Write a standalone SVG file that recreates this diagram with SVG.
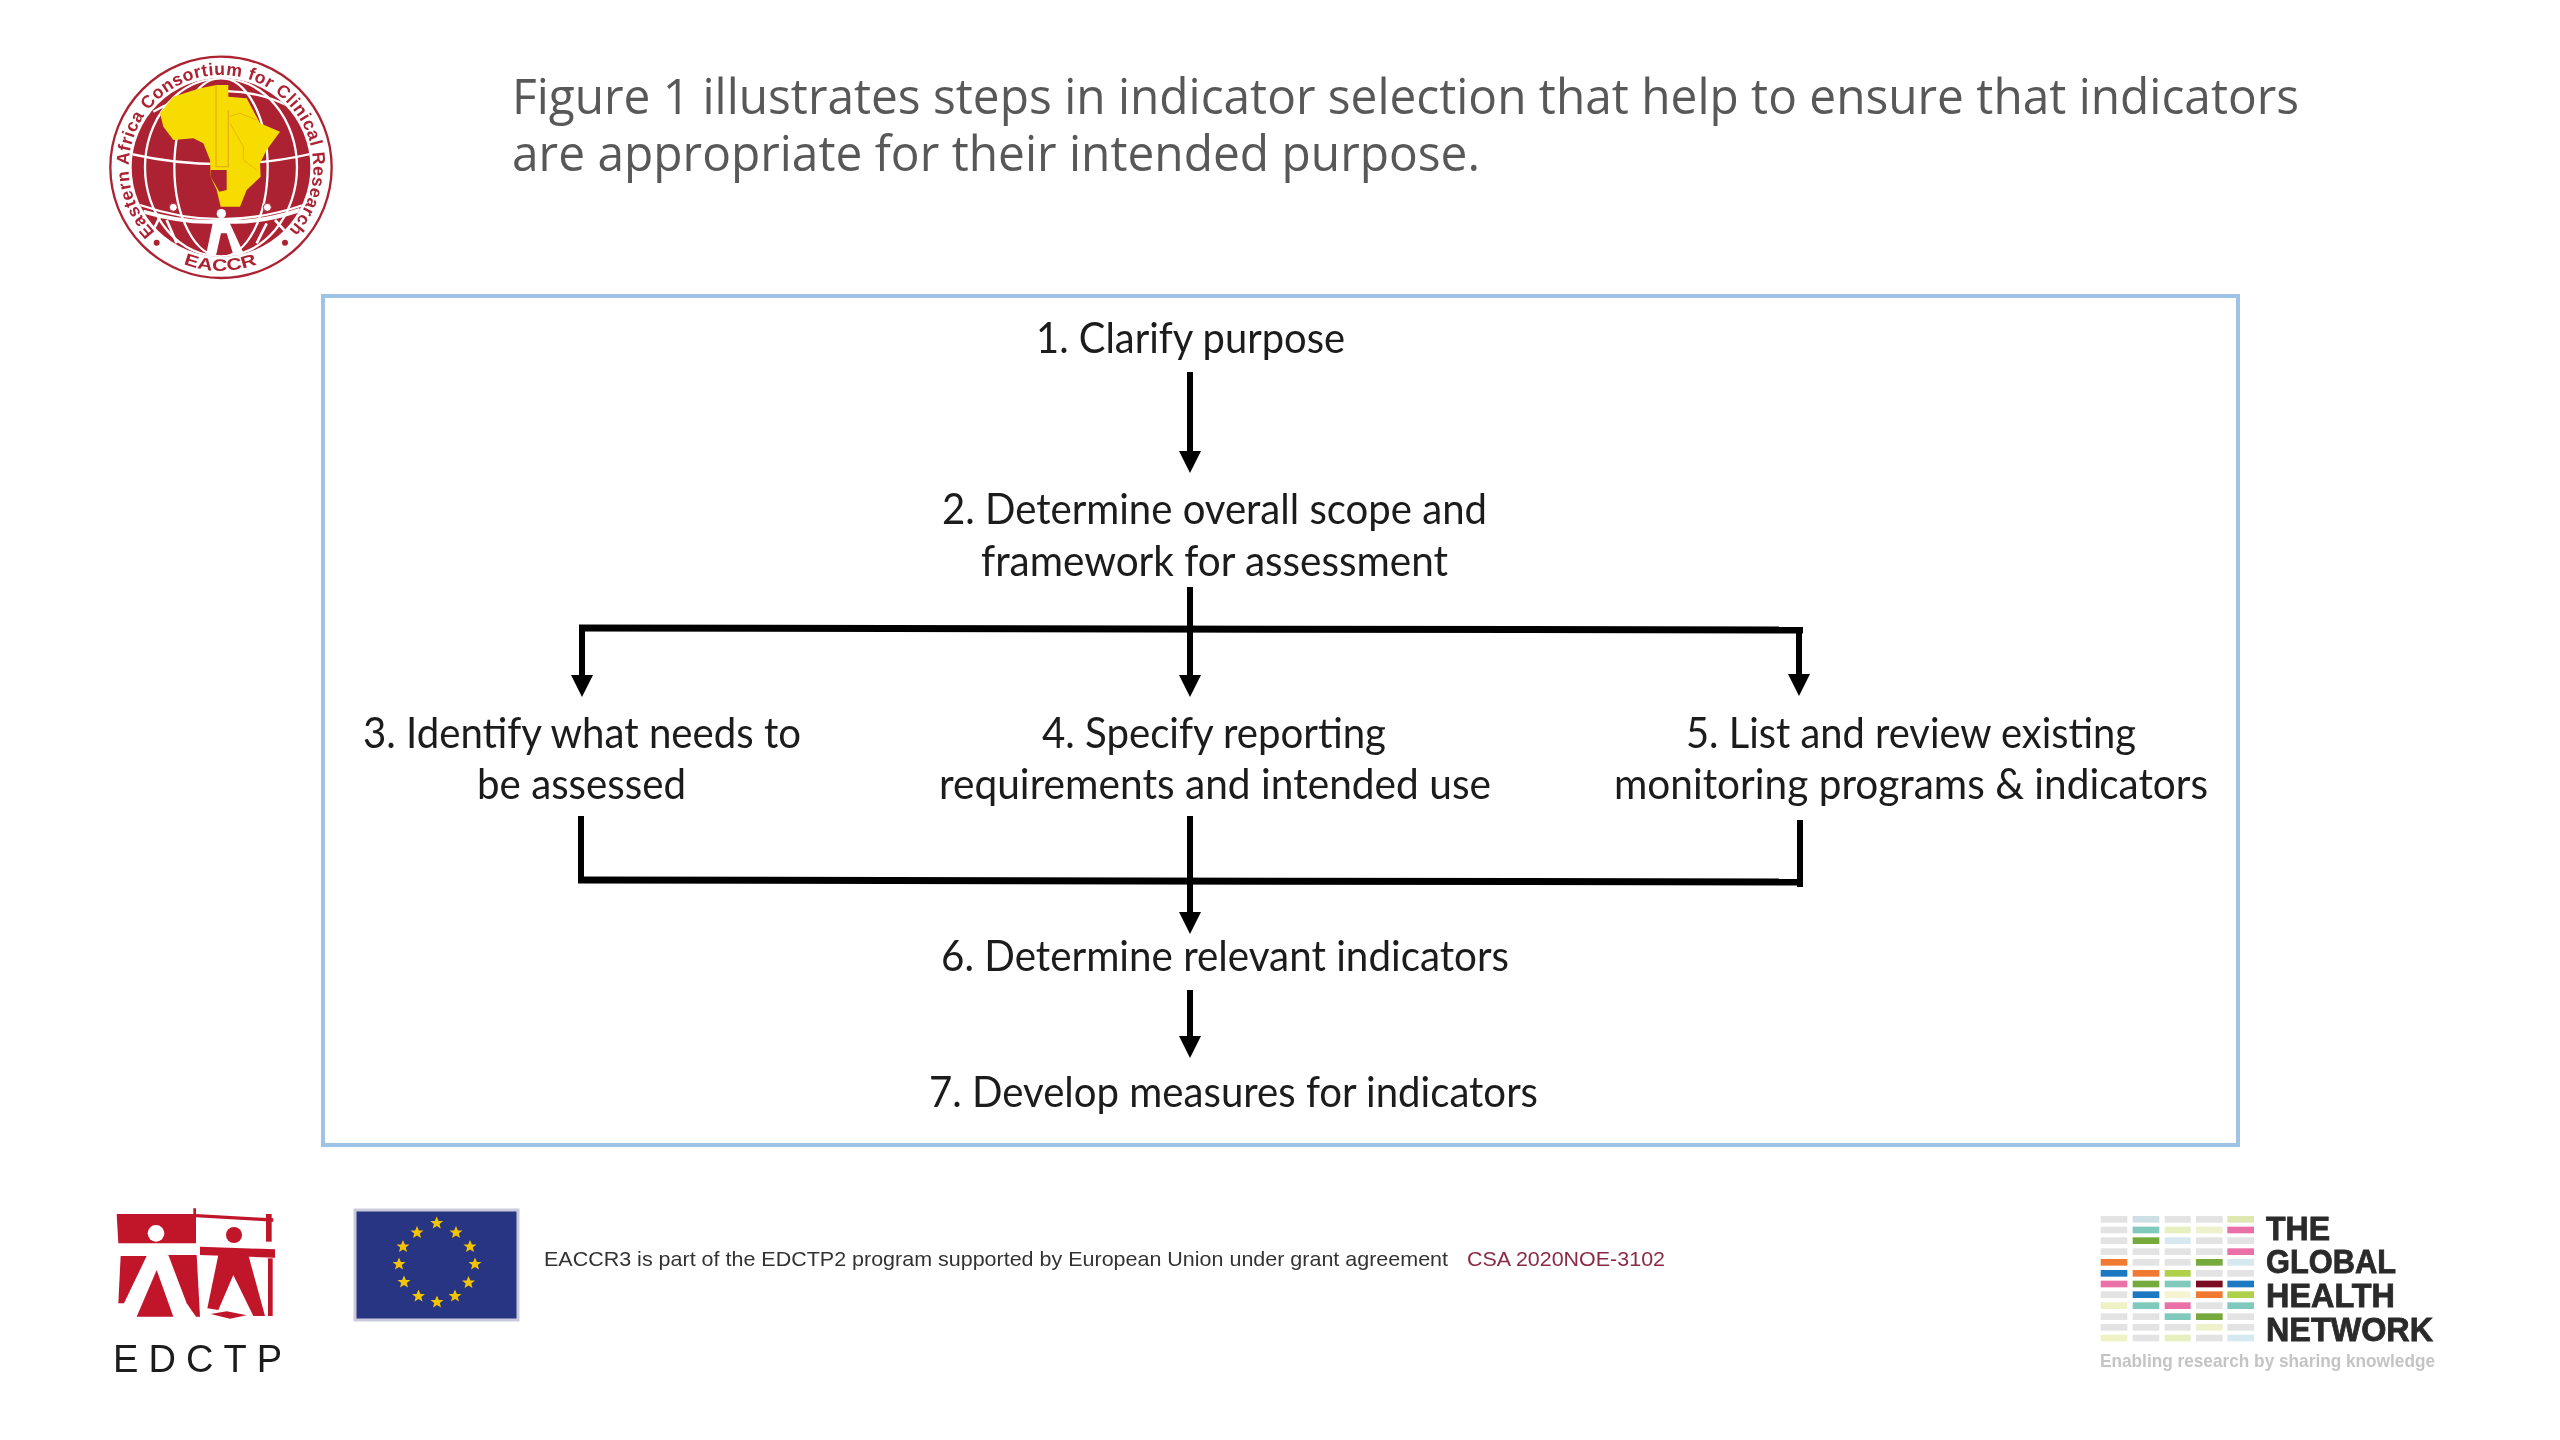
<svg xmlns="http://www.w3.org/2000/svg" width="2560" height="1440" viewBox="0 0 2560 1440">
<style>
.t{font-family:"Lato","Carlito","Liberation Sans",sans-serif;font-size:43px;fill:#1a1a1a}
.h{font-family:"Open Sans","Noto Sans",sans-serif;font-size:50px;fill:#595959}
.c{fill:none;stroke:#000;stroke-width:6}
.b{fill:none;stroke:#000;stroke-width:7}
.f{font-family:"Liberation Sans",Arial,sans-serif;font-size:21px;fill:#333}
.g{font-family:"Liberation Sans",Arial,sans-serif;font-weight:700;font-size:33px;fill:#2a2a2a;stroke:#2a2a2a;stroke-width:.8}
.e{fill:#c1152c}
</style>
<defs>
<marker id="ah" markerUnits="userSpaceOnUse" markerWidth="24" markerHeight="24" refX="0" refY="11" orient="auto"><path d="M0 0L22 11L0 22Z" fill="#000"/></marker>
<filter id="s0" x="-2%" y="-10%" width="104%" height="120%"><feGaussianBlur stdDeviation="0.6"/></filter>
<filter id="s1" x="-5%" y="-5%" width="110%" height="110%"><feGaussianBlur stdDeviation="0.9"/></filter>
<filter id="s2" x="-5%" y="-5%" width="110%" height="110%"><feGaussianBlur stdDeviation="1.5"/></filter>
<clipPath id="gl"><circle cx="483" cy="442" r="268"/></clipPath>
<path id="ring" d="M285 636A277 277 0 1 1 690 626"/>
<path id="ringb" d="M370 731A310 310 0 0 0 596 731"/>
<path id="st" d="M0 -6.5L1.9 -2L6.5 -2L2.8 1L4 5.6L0 3L-4 5.6L-2.8 1L-6.5 -2L-1.9 -2Z" fill="#f5c400"/>
</defs>
<rect width="2560" height="1440" fill="#fff"/>

<g id="heading" filter="url(#s0)">
<text class="h" x="512" y="114" textLength="1787" lengthAdjust="spacingAndGlyphs">Figure 1 illustrates steps in indicator selection that help to ensure that indicators</text>
<text class="h" x="512" y="171" textLength="968" lengthAdjust="spacingAndGlyphs">are appropriate for their intended purpose.</text>
</g>

<g id="logo-eaccr" transform="translate(60 20) scale(.33333)" filter="url(#s1)">
<circle cx="483" cy="442" r="332" fill="#fff" stroke="#ac2231" stroke-width="7"/>
<circle cx="483" cy="442" r="268" fill="#ac2231"/>
<g clip-path="url(#gl)">
<g fill="none" stroke="#fff" stroke-width="7">
<ellipse cx="483" cy="442" rx="140" ry="268"/>
<ellipse cx="483" cy="442" rx="228" ry="268"/>
<path d="M205 400Q483 465 760 400"/>
<path d="M280 275Q483 160 690 260"/>
<path d="M240 555Q483 640 730 555"/>
</g>
<path d="M460 600L435 720H465L483 640L500 640L525 720H560L505 600Z" fill="#fff"/>
<path d="M250 575Q370 610 470 605H500Q600 610 720 570" fill="none" stroke="#fff" stroke-width="12"/>
<path d="M300 590L270 650M320 600L350 670M645 600L690 650M620 610L590 670" fill="none" stroke="#fff" stroke-width="8"/>
</g>
<path d="M300 280L340 230L420 205L470 195H505V230L560 235L600 310L660 335L620 390L600 430L602 470L560 510L540 560H482L470 510L452 470L450 420L430 370L400 355L340 360L310 320Z" fill="#f7dc00"/>
<path d="M452 450H500V510L478 515L452 470Z" fill="#ac2231"/>
<path d="M468 195V440H505V270" fill="none" stroke="#e5b21a" stroke-width="4"/>
<path d="M505 290L540 280L590 300M510 310L550 380L550 420L590 450" fill="none" stroke="#e8b800" stroke-width="3"/>
<circle cx="484" cy="581" r="14" fill="#fff"/>
<circle cx="340" cy="562" r="12" fill="#fff" stroke="#ac2231" stroke-width="3"/>
<circle cx="622" cy="562" r="12" fill="#fff" stroke="#ac2231" stroke-width="3"/>
<text font-family="Liberation Sans,Arial,sans-serif" font-size="53" font-weight="700" fill="#ac2231"><textPath href="#ring" textLength="1291">Eastern Africa Consortium for Clinical Research</textPath></text>
<text font-family="Liberation Sans,Arial,sans-serif" font-size="50" fill="#ac2231" font-weight="700"><textPath href="#ringb" textLength="226" lengthAdjust="spacingAndGlyphs">EACCR</textPath></text>
<circle cx="290" cy="668" r="9" fill="#ac2231"/>
<circle cx="675" cy="668" r="9" fill="#ac2231"/>
</g>

<rect id="frame" x="323" y="296" width="1915" height="849" fill="#fff" stroke="#9dc3e6" stroke-width="4"/>

<g id="connectors">
<path class="c" d="M1190 372V451" marker-end="url(#ah)" />
<path class="c" d="M1190 587V675" marker-end="url(#ah)"/>
<path class="b" d="M579 628L1803 630"/>
<path class="c" d="M582 628V675" marker-end="url(#ah)"/>
<path class="c" d="M1799 630V674" marker-end="url(#ah)"/>
<path class="c" d="M581 816V881"/>
<path class="b" d="M578 880L1803 882"/>
<path class="c" d="M1800 820V887"/>
<path class="c" d="M1190 816V912" marker-end="url(#ah)"/>
<path class="c" d="M1190 990V1036" marker-end="url(#ah)"/>
</g>

<g id="step1" filter="url(#s0)"><text class="t" x="1036" y="353" textLength="309" lengthAdjust="spacingAndGlyphs">1. Clarify purpose</text></g>
<g id="step2" filter="url(#s0)"><text class="t" x="942" y="524" textLength="545" lengthAdjust="spacingAndGlyphs">2. Determine overall scope and</text>
<text class="t" x="981" y="576" textLength="467" lengthAdjust="spacingAndGlyphs">framework for assessment</text></g>
<g id="step3" filter="url(#s0)"><text class="t" x="363" y="748" textLength="438" lengthAdjust="spacingAndGlyphs">3. Identify what needs to</text>
<text class="t" x="477" y="799" textLength="209" lengthAdjust="spacingAndGlyphs">be assessed</text></g>
<g id="step4" filter="url(#s0)"><text class="t" x="1042" y="748" textLength="344" lengthAdjust="spacingAndGlyphs">4. Specify reporting</text>
<text class="t" x="939" y="799" textLength="552" lengthAdjust="spacingAndGlyphs">requirements and intended use</text></g>
<g id="step5" filter="url(#s0)"><text class="t" x="1686" y="748" textLength="450" lengthAdjust="spacingAndGlyphs">5. List and review existing</text>
<text class="t" x="1614" y="799" textLength="594" lengthAdjust="spacingAndGlyphs">monitoring programs &amp; indicators</text></g>
<g id="step6" filter="url(#s0)"><text class="t" x="941" y="971" textLength="568" lengthAdjust="spacingAndGlyphs">6. Determine relevant indicators</text></g>
<g id="step7" filter="url(#s0)"><text class="t" x="929" y="1107" textLength="609" lengthAdjust="spacingAndGlyphs">7. Develop measures for indicators</text></g>

<g id="logo-edctp">
<g transform="translate(90 1190) scale(.33333)" filter="url(#s1)">
<path class="e" d="M80 72H310V55H318V160H85Z"/>
<circle cx="198" cy="130" r="25" fill="#fff"/>
<path class="e" d="M318 72L550 85V95L318 82Z"/>
<path class="e" d="M528 72H545V155H528Z"/>
<circle class="e" cx="432" cy="135" r="24"/>
<path class="e" d="M330 170L555 178V203L330 195Z"/>
<path class="e" d="M92 198H170L102 340H85Z"/>
<path class="e" d="M235 195H320L330 380H318L290 340Z"/>
<path class="e" d="M200 240L250 380H140Z"/>
<path class="e" d="M385 195H475L525 378H490L430 255L385 360L352 355Z"/>
<path class="e" d="M534 205H548V378H534Z"/>
<path class="e" d="M362 372L410 364L470 376L420 386Z"/>
</g>
<text x="113" y="1372" font-family="Liberation Sans,Arial,sans-serif" font-size="38" fill="#1e1e1e" textLength="169" filter="url(#s0)">EDCTP</text>
</g>

<g id="eu-flag">
<rect x="355" y="1210" width="163" height="110" fill="#283583" stroke="#c9cbdc" stroke-width="3"/>
<use href="#st" x="436.700" y="1223"/><use href="#st" x="456" y="1232.500"/><use href="#st" x="470" y="1246.500"/><use href="#st" x="475" y="1264"/><use href="#st" x="468.500" y="1282.500"/><use href="#st" x="455" y="1296"/><use href="#st" x="437" y="1302"/><use href="#st" x="418.500" y="1296"/><use href="#st" x="404" y="1282"/><use href="#st" x="399" y="1264"/><use href="#st" x="403" y="1246.500"/><use href="#st" x="417" y="1232.500"/>
</g>

<g id="funding-note" filter="url(#s0)">
<text class="f" x="544" y="1266" textLength="904" lengthAdjust="spacingAndGlyphs">EACCR3 is part of the EDCTP2 program supported by European Union under grant agreement</text>
<text class="f" x="1467" y="1266" textLength="198" lengthAdjust="spacingAndGlyphs" style="fill:#8a2a45">CSA 2020NOE-3102</text>
</g>

<g id="logo-ghn">
<g transform="translate(2080 1190) scale(.33333)" filter="url(#s2)">
<g fill="#e3e3e3">
<rect x="62" y="78" width="80" height="20"/><rect x="62" y="110" width="80" height="20"/><rect x="62" y="142" width="80" height="20"/><rect x="62" y="175" width="80" height="20"/><rect x="62" y="207" width="80" height="20" fill="#f07a30"/><rect x="62" y="240" width="80" height="20" fill="#1e78c0"/><rect x="62" y="272" width="80" height="20" fill="#ea6fa8"/><rect x="62" y="304" width="80" height="20"/><rect x="62" y="337" width="80" height="20" fill="#eef2c4"/><rect x="62" y="370" width="80" height="20"/><rect x="62" y="402" width="80" height="20"/><rect x="62" y="434" width="80" height="20" fill="#eef2c4"/>
<rect x="158" y="78" width="80" height="20" fill="#cfdfe6"/><rect x="158" y="110" width="80" height="20" fill="#7fcabc"/><rect x="158" y="142" width="80" height="20" fill="#76aa3c"/><rect x="158" y="175" width="80" height="20"/><rect x="158" y="207" width="80" height="20"/><rect x="158" y="240" width="80" height="20" fill="#f07a30"/><rect x="158" y="272" width="80" height="20" fill="#76aa3c"/><rect x="158" y="304" width="80" height="20" fill="#1e78c0"/><rect x="158" y="337" width="80" height="20" fill="#7fcabc"/><rect x="158" y="370" width="80" height="20"/><rect x="158" y="402" width="80" height="20"/><rect x="158" y="434" width="80" height="20"/>
<rect x="254" y="78" width="78" height="20"/><rect x="254" y="110" width="78" height="20" fill="#e6efc0"/><rect x="254" y="142" width="78" height="20" fill="#d6e8f0"/><rect x="254" y="175" width="78" height="20"/><rect x="254" y="207" width="78" height="20"/><rect x="254" y="240" width="78" height="20" fill="#afd04a"/><rect x="254" y="272" width="78" height="20" fill="#7fcabc"/><rect x="254" y="304" width="78" height="20" fill="#f6f4d0"/><rect x="254" y="337" width="78" height="20" fill="#ea6fa8"/><rect x="254" y="370" width="78" height="20" fill="#7fcabc"/><rect x="254" y="402" width="78" height="20"/><rect x="254" y="434" width="78" height="20" fill="#e6efc0"/>
<rect x="348" y="78" width="80" height="20"/><rect x="348" y="110" width="80" height="20" fill="#eef2cc"/><rect x="348" y="142" width="80" height="20"/><rect x="348" y="175" width="80" height="20"/><rect x="348" y="207" width="80" height="20" fill="#76aa3c"/><rect x="348" y="240" width="80" height="20"/><rect x="348" y="272" width="80" height="20" fill="#7a1020"/><rect x="348" y="304" width="80" height="20" fill="#f07a30"/><rect x="348" y="337" width="80" height="20"/><rect x="348" y="370" width="80" height="20" fill="#76aa3c"/><rect x="348" y="402" width="80" height="20" fill="#eef2cc"/><rect x="348" y="434" width="80" height="20"/>
<rect x="442" y="78" width="80" height="20" fill="#dfe8b0"/><rect x="442" y="110" width="80" height="20" fill="#ea6fa8"/><rect x="442" y="142" width="80" height="20"/><rect x="442" y="175" width="80" height="20" fill="#ea6fa8"/><rect x="442" y="207" width="80" height="20" fill="#d6e8f0"/><rect x="442" y="240" width="80" height="20"/><rect x="442" y="272" width="80" height="20" fill="#1e78c0"/><rect x="442" y="304" width="80" height="20" fill="#afd04a"/><rect x="442" y="337" width="80" height="20" fill="#7fcabc"/><rect x="442" y="370" width="80" height="20"/><rect x="442" y="402" width="80" height="20"/><rect x="442" y="434" width="80" height="20" fill="#d6e8f0"/>
</g>
</g>
<g filter="url(#s0)">
<text class="g" x="2266" y="1240" textLength="64" lengthAdjust="spacingAndGlyphs">THE</text>
<text class="g" x="2266" y="1273" textLength="130" lengthAdjust="spacingAndGlyphs">GLOBAL</text>
<text class="g" x="2266" y="1307" textLength="129" lengthAdjust="spacingAndGlyphs">HEALTH</text>
<text class="g" x="2266" y="1341" textLength="167" lengthAdjust="spacingAndGlyphs">NETWORK</text>
<text x="2100" y="1367" font-family="Liberation Sans,Arial,sans-serif" font-size="19" font-weight="700" fill="#c4c4c4" textLength="335" lengthAdjust="spacingAndGlyphs">Enabling research by sharing knowledge</text>
</g>
</g>
</svg>
